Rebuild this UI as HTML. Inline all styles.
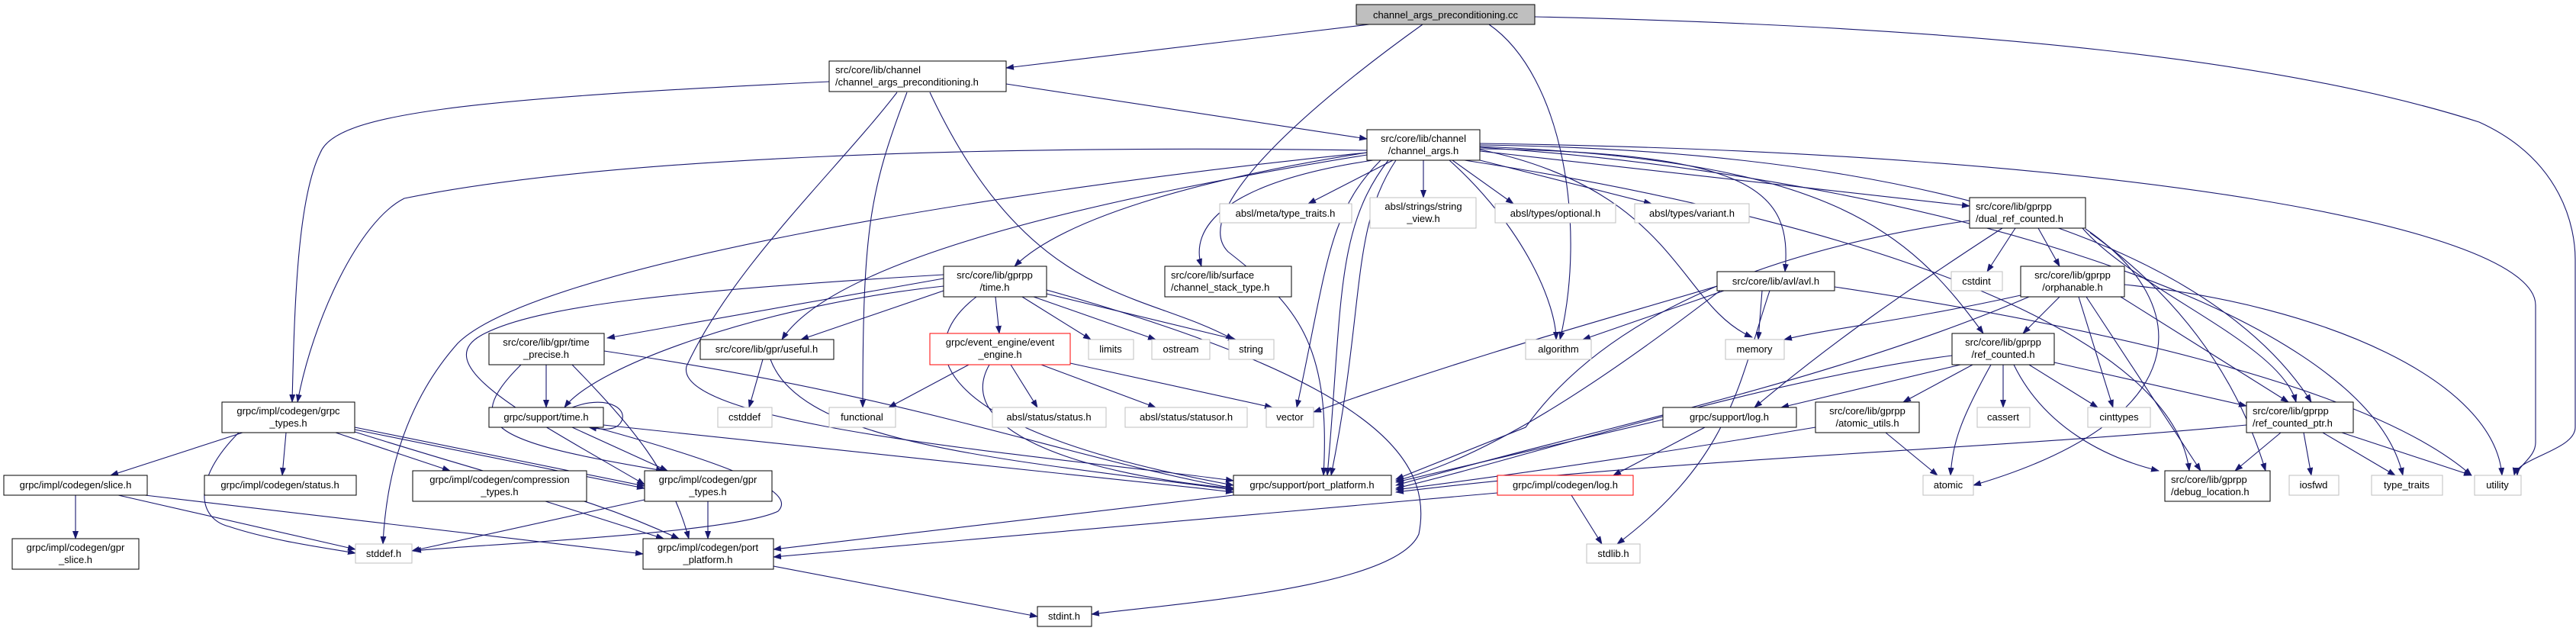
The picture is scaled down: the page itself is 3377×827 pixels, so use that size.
<!DOCTYPE html>
<html><head><meta charset="utf-8"><style>
html,body{margin:0;padding:0;background:#fff;}
svg{display:block;}
text{font-family:"Liberation Sans",sans-serif;font-size:13px;fill:#000;}
.e{fill:none;stroke:#191970;stroke-width:1.1;marker-end:url(#a);}
.n{fill:#fff;stroke:#000;stroke-width:1;}
.g{fill:#fff;stroke:#bfbfbf;stroke-width:1;}
.r{fill:#fff;stroke:#ff0000;stroke-width:1;}
</style></head><body>
<svg width="3377" height="827" viewBox="0 0 3377 827" xmlns="http://www.w3.org/2000/svg">
<defs><marker id="a" markerUnits="userSpaceOnUse" markerWidth="11" markerHeight="8" refX="10" refY="4" orient="auto"><path d="M0,0 L11,4 L0,8 z" fill="#191970"/></marker></defs>
<g>
<!-- cc -->
<path class="e" d="M1795,32 L1319,89"/>
<path class="e" d="M1865,32 C1700,150 1560,280 1610,330 C1700,400 1745,450 1735,623"/>
<path class="e" d="M1952,32 C2050,100 2080,300 2045,445"/>
<path class="e" d="M2012,22 C2600,35 3000,80 3250,160 C3360,210 3376,300 3376,340 L3376,560 C3376,590 3300,600 3296,623"/>
<!-- CAP -->
<path class="e" d="M1087,107 C600,130 440,150 420,200 C390,260 386,400 383,527"/>
<path class="e" d="M1176,121 C1100,220 960,350 900,480 C880,560 1400,600 1617,630"/>
<path class="e" d="M1189,121 C1140,250 1131,300 1131,534"/>
<path class="e" d="M1219,121 C1350,400 1500,380 1617,445"/>
<path class="e" d="M1319,110 L1792,182"/>
<!-- CA -->
<path class="e" d="M1792,197 C1300,190 800,205 530,260 C470,290 410,420 390,527"/>
<path class="e" d="M1792,200 C1300,250 700,350 600,450 C520,540 505,650 502,713"/>
<path class="e" d="M1792,203 C1500,250 1100,330 1025,445"/>
<path class="e" d="M1792,200 C1600,230 1400,280 1330,349"/>
<path class="e" d="M1800,210 C1600,240 1560,300 1575,349"/>
<path class="e" d="M1826,210 L1715,267"/>
<path class="e" d="M1866,210 L1866,259"/>
<path class="e" d="M1904,210 L1984,267"/>
<path class="e" d="M1940,210 L2165,267"/>
<path class="e" d="M1940,198 L2582,270"/>
<path class="e" d="M1940,195 C2300,200 2350,250 2340,356"/>
<path class="e" d="M1940,192 C2400,210 2500,300 2600,437"/>
<path class="e" d="M1940,190 C2700,200 2950,400 3030,527"/>
<path class="e" d="M1940,188 C2800,200 3324,300 3324,400 L3324,580 C3324,600 3300,610 3300,623"/>
<path class="e" d="M1940,193 C2500,230 3100,400 3150,623"/>
<path class="e" d="M1900,210 C2000,300 2040,400 2040,445"/>
<path class="e" d="M1820,210 C1750,300 1760,400 1740,623"/>
<path class="e" d="M1830,210 C1770,300 1790,400 1745,623"/>
<path class="e" d="M1920,210 C2500,300 2850,450 2870,617"/>
<path class="e" d="M1810,210 C1740,280 1740,350 1700,534"/>
<path class="e" d="M1940,196 C2200,250 2200,400 2297,442"/>
<!-- time.h -->
<path class="e" d="M1305,389 L1310,437"/>
<path class="e" d="M1340,389 L1430,445"/>
<path class="e" d="M1355,389 L1515,445"/>
<path class="e" d="M1372,385 L1620,445"/>
<path class="e" d="M1280,389 C1200,450 1200,560 1617,636"/>
<path class="e" d="M1237,375 C1000,400 780,480 740,534"/>
<path class="e" d="M1240,380 L1050,445"/>
<path class="e" d="M1237,365 L796,443"/>
<path class="e" d="M1237,360 C900,380 700,400 630,440 C560,480 700,550 845,635"/>
<path class="e" d="M1372,380 C1800,500 1880,600 1860,700 C1830,770 1550,790 1431,805"/>
<!-- event_engine -->
<path class="e" d="M1270,478 L1165,534"/>
<path class="e" d="M1325,478 L1360,534"/>
<path class="e" d="M1365,478 L1515,534"/>
<path class="e" d="M1403,476 L1668,534"/>
<path class="e" d="M1297,478 C1250,560 1400,620 1617,640"/>
<!-- time_precise -->
<path class="e" d="M716,478 L716,534"/>
<path class="e" d="M750,478 C830,560 880,620 903,706"/>
<path class="e" d="M683,478 C600,560 650,580 870,617"/>
<path class="e" d="M792,460 C1200,520 1400,600 1617,640"/>
<!-- useful -->
<path class="e" d="M1000,471 L982,534"/>
<path class="e" d="M1010,471 C1050,580 1300,600 1617,642"/>
<!-- gpr time -->
<path class="e" d="M750,534 C800,515 830,540 810,558 C800,565 785,562 772,560"/>
<path class="e" d="M750,560 L875,617"/>
<path class="e" d="M791,557 C1200,600 1400,620 1617,645"/>
<path class="e" d="M780,560 C1000,620 1040,650 1020,670 C960,700 600,715 542,722"/>
<!-- grpc_types -->
<path class="e" d="M318,567 L145,623"/>
<path class="e" d="M375,567 L370,623"/>
<path class="e" d="M440,567 L590,617"/>
<path class="e" d="M465,560 L845,637"/>
<path class="e" d="M465,563 L845,640"/>
<path class="e" d="M465,566 C700,640 770,650 890,706"/>
<path class="e" d="M313,567 C250,630 260,680 300,690 C360,710 440,720 466,725"/>
<!-- slice etc -->
<path class="e" d="M99,649 L99,706"/>
<path class="e" d="M155,649 L466,720"/>
<path class="e" d="M190,649 L843,726"/>
<path class="e" d="M715,657 L870,706"/>
<path class="e" d="M928,657 L928,706"/>
<path class="e" d="M845,655 L540,722"/>
<path class="e" d="M1014,742 L1360,808"/>
<path class="e" d="M1617,649 L1014,720"/>
<path class="e" d="M1963,646 L1014,730"/>
<path class="e" d="M2060,649 L2100,713"/>
<!-- avl -->
<path class="e" d="M2260,381 L2075,445"/>
<path class="e" d="M2310,381 L2305,445"/>
<path class="e" d="M2251,375 C2100,420 1950,460 1722,540"/>
<path class="e" d="M2255,381 C2100,500 1950,600 1830,630"/>
<path class="e" d="M2320,381 C2280,500 2270,600 2120,713"/>
<path class="e" d="M2405,376 C2700,420 3100,500 3240,623"/>
<!-- dual -->
<path class="e" d="M2642,299 L2605,356"/>
<path class="e" d="M2672,299 L2700,349"/>
<path class="e" d="M2582,289 C2300,330 2100,420 2000,560 L1830,628"/>
<path class="e" d="M2625,299 C2500,380 2400,450 2300,534"/>
<path class="e" d="M2730,299 C2800,380 2990,450 3010,527"/>
<path class="e" d="M2740,305 C2900,420 2950,550 2970,617"/>
<path class="e" d="M2734,300 C2880,400 2880,550 2587,636"/>
<!-- orph -->
<path class="e" d="M2649,387 C2500,420 2400,430 2339,445"/>
<path class="e" d="M2700,389 L2652,437"/>
<path class="e" d="M2660,389 C2400,500 2100,560 1830,636"/>
<path class="e" d="M2725,389 L2770,534"/>
<path class="e" d="M2735,389 L2885,617"/>
<path class="e" d="M2780,389 L3000,527"/>
<path class="e" d="M2785,373 C3050,400 3270,500 3280,623"/>
<!-- ref_counted -->
<path class="e" d="M2559,466 C2300,500 2000,600 1830,640"/>
<path class="e" d="M2570,478 L2335,534"/>
<path class="e" d="M2586,478 L2495,527"/>
<path class="e" d="M2626,478 L2626,534"/>
<path class="e" d="M2610,478 C2570,550 2560,580 2557,623"/>
<path class="e" d="M2660,478 L2750,534"/>
<path class="e" d="M2640,478 C2680,560 2760,600 2830,617"/>
<path class="e" d="M2693,475 L2945,532"/>
<path class="e" d="M2380,560 C2200,590 2000,620 1830,642"/>
<path class="e" d="M2472,567 L2540,623"/>
<!-- rcp -->
<path class="e" d="M2945,557 C2600,590 2200,600 1830,645"/>
<path class="e" d="M2990,567 L2930,617"/>
<path class="e" d="M3020,567 L3030,623"/>
<path class="e" d="M3045,567 L3140,623"/>
<path class="e" d="M3070,567 L3240,623"/>
<path class="e" d="M2180,550 L1830,632"/>
<path class="e" d="M2235,560 L2115,623"/>
</g>
<g>
<rect x="1778" y="6" width="234" height="26" fill="#bfbfbf" stroke="#000"/><text x="1895" y="24" text-anchor="middle">channel_args_preconditioning.cc</text>
<rect class="n" x="1087" y="80" width="232" height="40"/><text x="1095" y="96">src/core/lib/channel</text><text x="1095" y="112">/channel_args_preconditioning.h</text>
<rect class="n" x="1792" y="170" width="148" height="40"/><text x="1866" y="186" text-anchor="middle">src/core/lib/channel</text><text x="1866" y="202" text-anchor="middle">/channel_args.h</text>
<rect class="g" x="1599" y="267" width="173" height="25"/><text x="1685" y="284" text-anchor="middle">absl/meta/type_traits.h</text>
<rect class="g" x="1796" y="259" width="139" height="40"/><text x="1866" y="275" text-anchor="middle">absl/strings/string</text><text x="1866" y="291" text-anchor="middle">_view.h</text>
<rect class="g" x="1960" y="267" width="158" height="25"/><text x="2039" y="284" text-anchor="middle">absl/types/optional.h</text>
<rect class="g" x="2143" y="267" width="150" height="25"/><text x="2218" y="284" text-anchor="middle">absl/types/variant.h</text>
<rect class="n" x="1237" y="349" width="135" height="40"/><text x="1304" y="365" text-anchor="middle">src/core/lib/gprpp</text><text x="1304" y="381" text-anchor="middle">/time.h</text>
<rect class="n" x="1527" y="349" width="166" height="40"/><text x="1535" y="365">src/core/lib/surface</text><text x="1535" y="381">/channel_stack_type.h</text>
<rect class="n" x="2582" y="259" width="152" height="40"/><text x="2590" y="275">src/core/lib/gprpp</text><text x="2590" y="291">/dual_ref_counted.h</text>
<rect class="n" x="2251" y="356" width="154" height="25"/><text x="2328" y="373" text-anchor="middle">src/core/lib/avl/avl.h</text>
<rect class="g" x="2558" y="356" width="67" height="25"/><text x="2591" y="373" text-anchor="middle">cstdint</text>
<rect class="n" x="2649" y="349" width="136" height="40"/><text x="2717" y="365" text-anchor="middle">src/core/lib/gprpp</text><text x="2717" y="381" text-anchor="middle">/orphanable.h</text>
<rect class="g" x="2262" y="445" width="77" height="26"/><text x="2300" y="462" text-anchor="middle">memory</text>
<rect class="n" x="2559" y="437" width="134" height="41"/><text x="2626" y="453" text-anchor="middle">src/core/lib/gprpp</text><text x="2626" y="469" text-anchor="middle">/ref_counted.h</text>
<rect class="n" x="2180" y="534" width="175" height="26"/><text x="2267" y="551" text-anchor="middle">grpc/support/log.h</text>
<rect class="n" x="2380" y="527" width="136" height="40"/><text x="2448" y="543" text-anchor="middle">src/core/lib/gprpp</text><text x="2448" y="559" text-anchor="middle">/atomic_utils.h</text>
<rect class="g" x="2592" y="534" width="69" height="26"/><text x="2626" y="551" text-anchor="middle">cassert</text>
<rect class="g" x="2737" y="534" width="82" height="26"/><text x="2778" y="551" text-anchor="middle">cinttypes</text>
<rect class="n" x="2945" y="527" width="140" height="40"/><text x="2953" y="543">src/core/lib/gprpp</text><text x="2953" y="559">/ref_counted_ptr.h</text>
<rect class="g" x="2521" y="623" width="66" height="26"/><text x="2554" y="640" text-anchor="middle">atomic</text>
<rect class="n" x="2838" y="617" width="138" height="40"/><text x="2846" y="633">src/core/lib/gprpp</text><text x="2846" y="649">/debug_location.h</text>
<rect class="g" x="3001" y="623" width="65" height="26"/><text x="3033" y="640" text-anchor="middle">iosfwd</text>
<rect class="g" x="3109" y="623" width="93" height="26"/><text x="3155" y="640" text-anchor="middle">type_traits</text>
<rect class="g" x="3244" y="623" width="61" height="26"/><text x="3274" y="640" text-anchor="middle">utility</text>
<rect class="r" x="1219" y="437" width="184" height="41"/><text x="1311" y="453" text-anchor="middle">grpc/event_engine/event</text><text x="1311" y="469" text-anchor="middle">_engine.h</text>
<rect class="g" x="1427" y="445" width="59" height="26"/><text x="1456" y="462" text-anchor="middle">limits</text>
<rect class="g" x="1510" y="445" width="76" height="26"/><text x="1548" y="462" text-anchor="middle">ostream</text>
<rect class="g" x="1611" y="445" width="59" height="26"/><text x="1640" y="462" text-anchor="middle">string</text>
<rect class="g" x="2000" y="445" width="86" height="26"/><text x="2043" y="462" text-anchor="middle">algorithm</text>
<rect class="g" x="1301" y="534" width="149" height="26"/><text x="1375" y="551" text-anchor="middle">absl/status/status.h</text>
<rect class="g" x="1475" y="534" width="160" height="26"/><text x="1555" y="551" text-anchor="middle">absl/status/statusor.h</text>
<rect class="g" x="1660" y="534" width="62" height="26"/><text x="1691" y="551" text-anchor="middle">vector</text>
<rect class="n" x="1617" y="623" width="207" height="26"/><text x="1720" y="640" text-anchor="middle">grpc/support/port_platform.h</text>
<rect class="r" x="1963" y="623" width="178" height="26"/><text x="2052" y="640" text-anchor="middle">grpc/impl/codegen/log.h</text>
<rect class="g" x="2080" y="713" width="70" height="25"/><text x="2115" y="730" text-anchor="middle">stdlib.h</text>
<rect class="n" x="1360" y="795" width="71" height="26"/><text x="1395" y="812" text-anchor="middle">stdint.h</text>
<rect class="g" x="1087" y="534" width="87" height="26"/><text x="1130" y="551" text-anchor="middle">functional</text>
<rect class="n" x="641" y="437" width="151" height="41"/><text x="716" y="453" text-anchor="middle">src/core/lib/gpr/time</text><text x="716" y="469" text-anchor="middle">_precise.h</text>
<rect class="n" x="918" y="445" width="175" height="26"/><text x="1005" y="462" text-anchor="middle">src/core/lib/gpr/useful.h</text>
<rect class="n" x="641" y="534" width="150" height="26"/><text x="716" y="551" text-anchor="middle">grpc/support/time.h</text>
<rect class="g" x="941" y="534" width="71" height="26"/><text x="976" y="551" text-anchor="middle">cstddef</text>
<rect class="n" x="291" y="527" width="174" height="40"/><text x="378" y="543" text-anchor="middle">grpc/impl/codegen/grpc</text><text x="378" y="559" text-anchor="middle">_types.h</text>
<rect class="n" x="5" y="623" width="188" height="26"/><text x="99" y="640" text-anchor="middle">grpc/impl/codegen/slice.h</text>
<rect class="n" x="268" y="623" width="199" height="26"/><text x="367" y="640" text-anchor="middle">grpc/impl/codegen/status.h</text>
<rect class="n" x="541" y="617" width="228" height="40"/><text x="655" y="633" text-anchor="middle">grpc/impl/codegen/compression</text><text x="655" y="649" text-anchor="middle">_types.h</text>
<rect class="n" x="845" y="617" width="167" height="40"/><text x="928" y="633" text-anchor="middle">grpc/impl/codegen/gpr</text><text x="928" y="649" text-anchor="middle">_types.h</text>
<rect class="n" x="16" y="706" width="166" height="40"/><text x="99" y="722" text-anchor="middle">grpc/impl/codegen/gpr</text><text x="99" y="738" text-anchor="middle">_slice.h</text>
<rect class="g" x="466" y="713" width="74" height="25"/><text x="503" y="730" text-anchor="middle">stddef.h</text>
<rect class="n" x="843" y="706" width="171" height="40"/><text x="928" y="722" text-anchor="middle">grpc/impl/codegen/port</text><text x="928" y="738" text-anchor="middle">_platform.h</text>
</g>
</svg>
</body></html>
